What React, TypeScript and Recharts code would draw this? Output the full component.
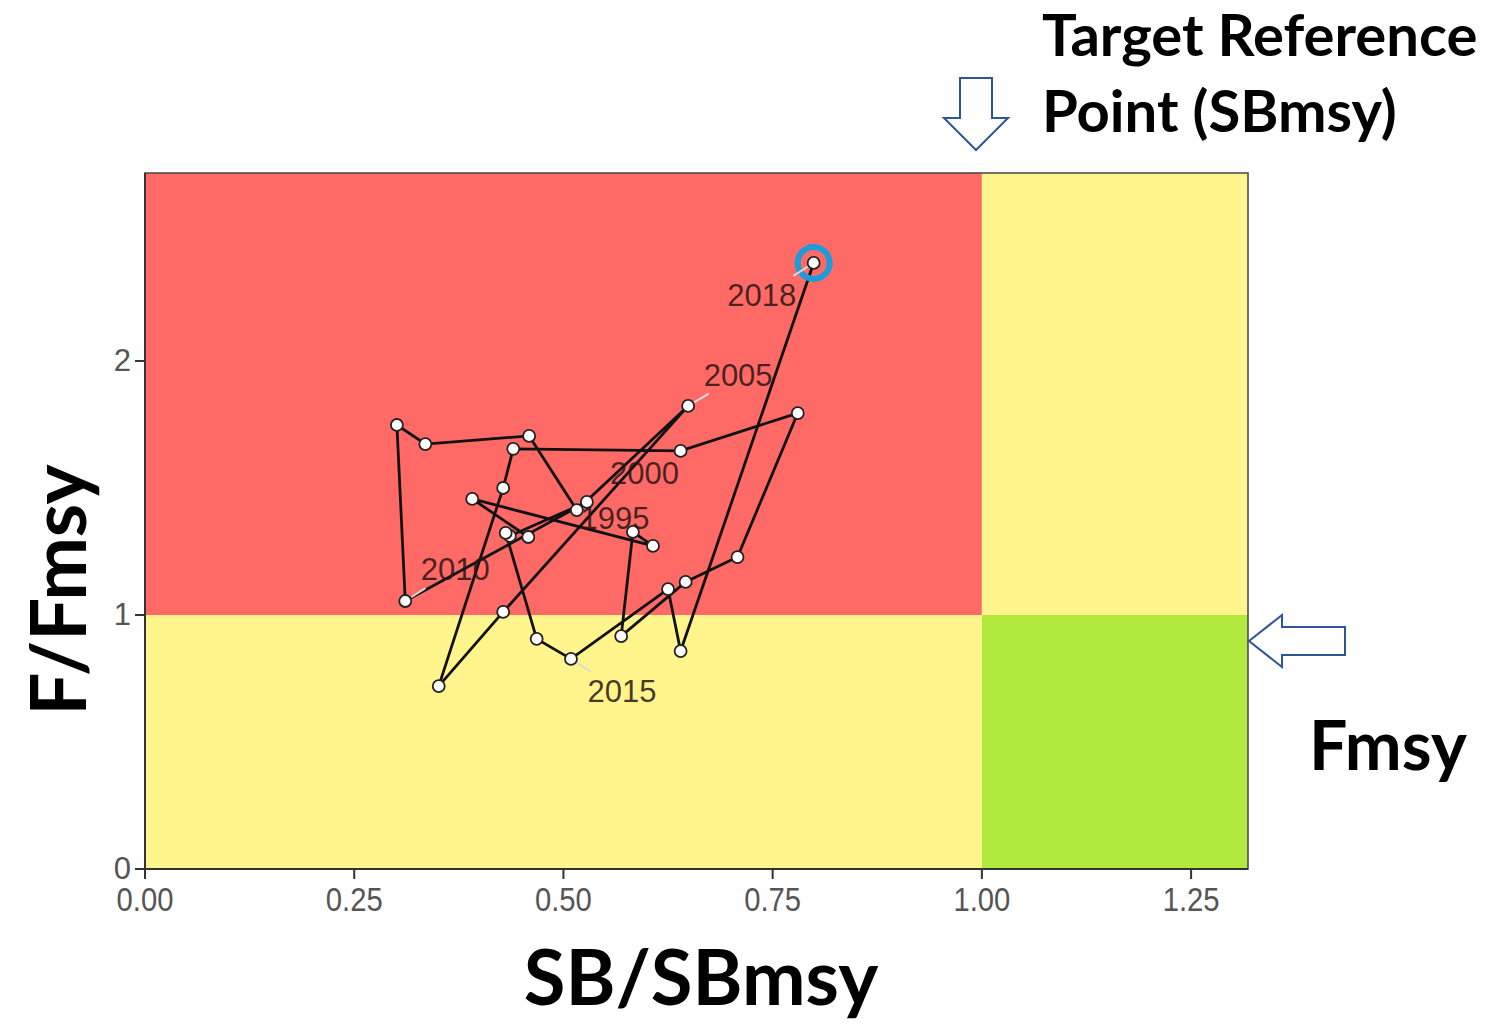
import React from 'react'
import {
  ComposedChart, Line, XAxis, YAxis, ReferenceArea, LabelList,
} from 'recharts'

// trajectory of the stock, one point per year
const YEARS = [
  1992, 1993, 1994, 1995, 1996, 1997, 1998, 1999, 2000, 2001,
  2002, 2003, 2004, 2005, 2006, 2007, 2008, 2009, 2010, 2011,
  2012, 2013, 2014, 2015, 2016, 2017, 2018,
]
const SB_RATIO = [
  0.458, 0.391, 0.607, 0.583, 0.569, 0.646, 0.708, 0.780, 0.640, 0.440,
  0.428, 0.351, 0.428, 0.649, 0.516, 0.459, 0.335, 0.301, 0.311, 0.528,
  0.436, 0.431, 0.468, 0.509, 0.625, 0.640, 0.799,
]
const F_RATIO = [
  1.307, 1.457, 1.272, 1.327, 0.917, 1.130, 1.228, 1.795, 1.646, 1.654,
  1.500, 0.720, 1.012, 1.823, 1.413, 1.705, 1.673, 1.748, 1.055, 1.445,
  1.311, 1.323, 0.906, 0.827, 1.102, 0.858, 2.386,
]
const LABELLED_YEARS = [1995, 2000, 2005, 2010, 2015, 2018]
const X_TICKS = [0, 0.25, 0.5, 0.75, 1, 1.25]
const Y_TICKS = [0, 1, 2]

const X_MAX = 1.318
const Y_MAX = 2.74

// where each year label sits relative to its point (px), and whether it gets a leader
const LABEL_OFFSET: Record<number, [number, number, boolean]> = {
  1995: [-18, -13, false],
  2000: [-36, 23, false],
  2005: [50, -30, true],
  2010: [50, -32, true],
  2015: [51, 33, true],
  2018: [-52, 33, true],
}

const data = YEARS.map((year, i) => ({
  year,
  sb: SB_RATIO[i],
  f: F_RATIO[i],
  label: LABELLED_YEARS.includes(year) ? String(year) : '',
}))

const LAST = YEARS.length - 1

function YearDot(props: any) {
  const { cx, cy, index } = props
  return (
    <g>
      {index === LAST && (
        <circle cx={cx} cy={cy} r={16} fill="none" stroke="#1E9BD8" strokeWidth={6} />
      )}
      <circle cx={cx} cy={cy} r={6} fill="#fff" stroke="#222" strokeWidth={1.8} />
    </g>
  )
}

function YearLabel(props: any) {
  const { x, y, value } = props
  if (!value) return null
  const [dx, dy, leader] = LABEL_OFFSET[Number(value)]
  const len = Math.hypot(dx, dy)
  return (
    <g>
      {leader && (
        <line
          x1={x + (dx / len) * 7}
          y1={y + (dy / len) * 7}
          x2={x + (dx / len) * 24}
          y2={y + (dy / len) * 24}
          stroke="#d9d9d9"
          strokeWidth={2}
        />
      )}
      <text
        x={x + dx}
        y={y + dy}
        textAnchor="middle"
        dominantBaseline="central"
        fontSize={31}
        fontFamily="Liberation Sans, Arial, sans-serif"
        fill="#2a1414"
        fillOpacity={0.85}
      >
        {value}
      </text>
    </g>
  )
}

function XTick(props: any) {
  const { x, y, payload } = props
  return (
    <text
      x={0}
      y={0}
      textAnchor="middle"
      fontSize={34}
      fontFamily="Liberation Sans, sans-serif"
      fill="#555"
      transform={`translate(${x},${y + 30}) scale(0.86,1)`}
    >
      {payload.value.toFixed(2)}
    </text>
  )
}

function YTick(props: any) {
  const { x, y, payload } = props
  return (
    <text
      x={x - 2}
      y={y + 10}
      textAnchor="end"
      fontSize={31}
      fontFamily="Liberation Sans, sans-serif"
      fill="#555"
    >
      {payload.value}
    </text>
  )
}

const bold: React.CSSProperties = {
  position: 'absolute',
  fontFamily: 'Lato, "Open Sans", sans-serif',
  fontWeight: 700,
  color: '#000',
  whiteSpace: 'nowrap',
  lineHeight: 1,
}

export default function App() {
  return (
    <div style={{ position: 'absolute', left: 0, top: 0, width: 1490, height: 1024, background: '#fff', overflow: 'hidden' }}>
      <ComposedChart
        width={1490}
        height={1024}
        data={data}
        margin={{ top: 173, right: 242, bottom: 115, left: 105 }}
      >
        <XAxis
          type="number"
          dataKey="sb"
          domain={[0, X_MAX]}
          ticks={X_TICKS}
          allowDataOverflow
          height={40}
          tick={<XTick />}
          tickSize={10}
          stroke="#333"
          strokeWidth={2}
        />
        <YAxis
          type="number"
          dataKey="f"
          domain={[0, Y_MAX]}
          ticks={Y_TICKS}
          allowDataOverflow
          width={40}
          tick={<YTick />}
          tickSize={10}
          stroke="#333"
          strokeWidth={2}
        />
        <ReferenceArea x1={0} x2={1} y1={1} y2={Y_MAX} fill="#FF6A66" fillOpacity={1} stroke="none" />
        <ReferenceArea x1={0} x2={1} y1={0} y2={1} fill="#FFF58C" fillOpacity={1} stroke="none" />
        <ReferenceArea x1={1} x2={X_MAX} y1={1} y2={Y_MAX} fill="#FFF58C" fillOpacity={1} stroke="none" />
        <ReferenceArea x1={1} x2={X_MAX} y1={0} y2={1} fill="#B1EA3C" fillOpacity={1} stroke="none" />
        <ReferenceArea x1={0} x2={X_MAX} y1={0} y2={Y_MAX} fill="none" stroke="#444" strokeWidth={1.5} />
        <Line
          type="linear"
          dataKey="f"
          stroke="#111"
          strokeWidth={2.8}
          dot={<YearDot />}
          activeDot={false}
          isAnimationActive={false}
        >
          <LabelList dataKey="label" content={<YearLabel />} />
        </Line>
      </ComposedChart>

      <svg
        width={1490}
        height={1024}
        style={{ position: 'absolute', left: 0, top: 0, pointerEvents: 'none' }}
      >
        <polygon
          points="960,78 992,78 992,118 1008,118 976,150 944,118 960,118"
          fill="#fff"
          stroke="#2F5597"
          strokeWidth={2}
        />
        <polygon
          points="1249,641 1282,615 1282,627 1345,627 1345,655 1282,655 1282,667"
          fill="#fff"
          stroke="#2F5597"
          strokeWidth={2}
        />
      </svg>

      <div style={{ ...bold, left: 1042, top: 5, fontSize: 58 }}>Target Reference</div>
      <div style={{ ...bold, left: 1042, top: 81, fontSize: 58 }}>Point (SBmsy)</div>
      <div style={{ ...bold, left: 1309, top: 710, fontSize: 68 }}>Fmsy</div>
      <div style={{ ...bold, left: 701, top: 938, fontSize: 76, transform: 'translateX(-50%)' }}>SB/SBmsy</div>
      <div
        style={{
          ...bold,
          left: 57,
          top: 590,
          fontSize: 76,
          transform: 'translate(-50%, -50%) rotate(-90deg)',
        }}
      >
        F/Fmsy
      </div>
    </div>
  )
}
